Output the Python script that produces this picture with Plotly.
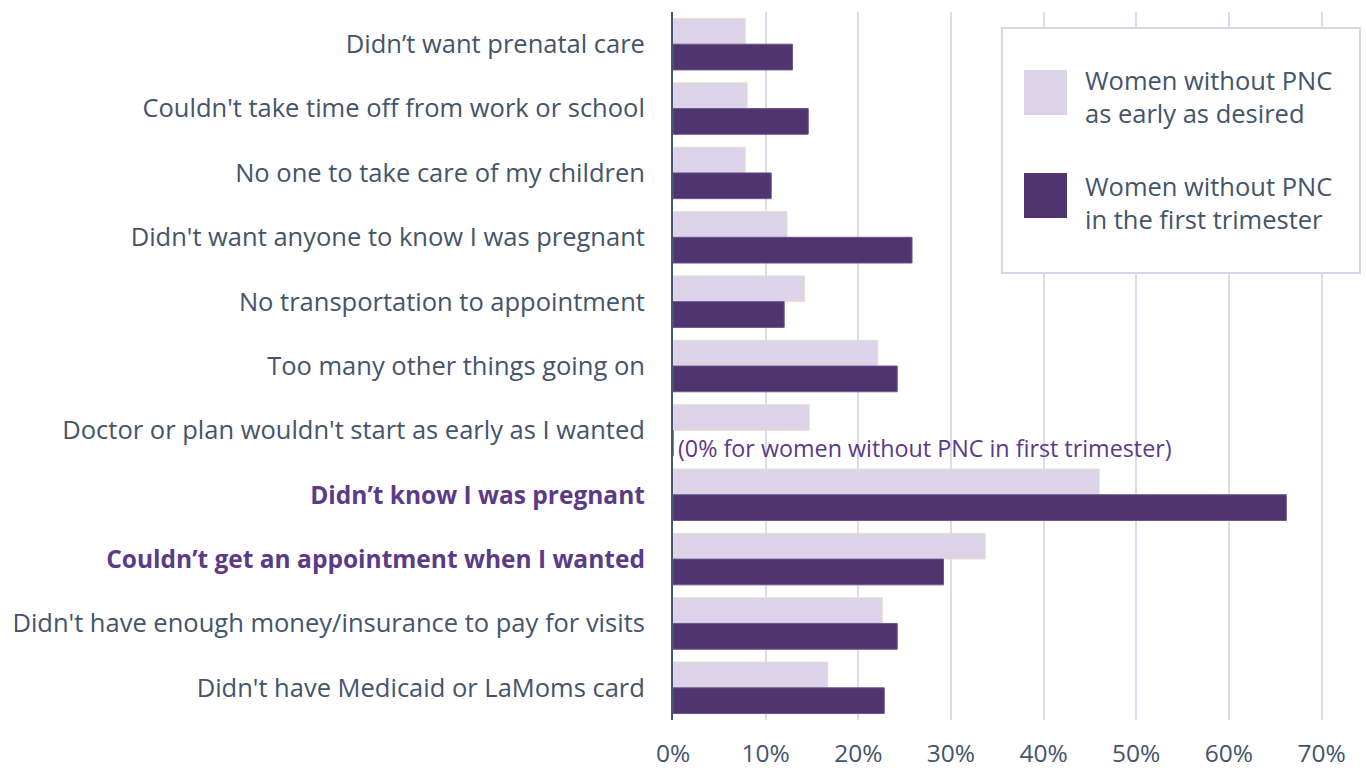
import plotly.graph_objects as go

# Reasons for not getting prenatal care (top to bottom)
reasons = [
    "Didn’t want prenatal care",
    "Couldn't take time off from work or school",
    "No one to take care of my children",
    "Didn't want anyone to know I was pregnant",
    "No transportation to appointment",
    "Too many other things going on",
    "Doctor or plan wouldn't start as early as I wanted",
    "Didn’t know I was pregnant",
    "Couldn’t get an appointment when I wanted",
    "Didn't have enough money/insurance to pay for visits",
    "Didn't have Medicaid or LaMoms card",
]
highlighted = {"Didn’t know I was pregnant", "Couldn’t get an appointment when I wanted"}

# Share of women citing each reason
not_as_early = [0.078, 0.080, 0.078, 0.123, 0.142, 0.221, 0.147, 0.460, 0.337, 0.226, 0.167]
not_first_tri = [0.129, 0.146, 0.106, 0.258, 0.120, 0.242, 0.0, 0.662, 0.292, 0.242, 0.228]

series_names = [
    "Women without PNC<br>as early as desired",
    "Women without PNC<br>in the first trimester",
]
x_ticks = [0, 0.1, 0.2, 0.3, 0.4, 0.5, 0.6, 0.7]
x_tick_labels = ["0%", "10%", "20%", "30%", "40%", "50%", "60%", "70%"]

LIGHT = "#DCD3E9"
DARK = "#4F3470"
SLATE = "#44546A"
PURPLE = "#5B3A87"
FONT = "Open Sans"

W, H = 1366, 772
ML, MR, MT, MB = 673, 0, 12, 52


def px_x(x):
    return (x - ML) / (W - ML - MR)


def px_y(y):
    return (H - MB - y) / (H - MT - MB)


tick_text = [
    f"<span style='color:{PURPLE};font-size:24.5px'><b>{r}</b></span>" if r in highlighted else r
    for r in reasons
]

fig = go.Figure()
fig.add_trace(go.Bar(
    y=reasons, x=not_as_early, orientation="h", name=series_names[0],
    marker=dict(color=LIGHT, line=dict(color="#E6E1CC", width=1)),
    showlegend=False,
))
fig.add_trace(go.Bar(
    y=reasons, x=not_first_tri, orientation="h", name=series_names[1],
    marker=dict(color=DARK, line=dict(color="#6B5690", width=1)),
    showlegend=False,
))

fig.add_annotation(
    x=0, y=reasons[6], xref="x", yref="y", xanchor="left", yanchor="middle",
    xshift=3, yshift=-18, showarrow=False,
    text="(0% for women without PNC in first trimester)",
    font=dict(family=FONT, size=23.3, color=PURPLE),
)

# Legend box
fig.add_shape(type="rect", xref="paper", yref="paper",
              x0=px_x(1002), x1=px_x(1360), y0=px_y(273), y1=px_y(28),
              line=dict(color="#DCD3EA", width=2), fillcolor="white", layer="above")
for (top, bottom, color, label, mid) in [
    (70, 115, LIGHT, series_names[0], 96),
    (173, 218, DARK, series_names[1], 202),
]:
    fig.add_shape(type="rect", xref="paper", yref="paper",
                  x0=px_x(1024), x1=px_x(1067), y0=px_y(bottom), y1=px_y(top),
                  line=dict(width=0), fillcolor=color, layer="above")
    fig.add_annotation(x=px_x(1083), y=px_y(mid), xref="paper", yref="paper",
                       xanchor="left", yanchor="middle", align="left",
                       showarrow=False, text=label,
                       font=dict(family=FONT, size=25.5, color=SLATE))

fig.update_layout(
    width=W, height=H,
    margin=dict(l=ML, r=MR, t=MT, b=MB),
    paper_bgcolor="white", plot_bgcolor="white",
    barmode="group", bargap=0.2, bargroupgap=0,
    font=dict(family=FONT, color=SLATE),
    xaxis=dict(
        range=[0, 0.748], tickvals=x_ticks, ticktext=x_tick_labels,
        showgrid=True, gridcolor="#D9DEE6", gridwidth=2,
        zeroline=False, showline=False, ticks="",
        tickfont=dict(family=FONT, size=24.5, color=SLATE),
        ticklabelstandoff=16, automargin=False,
    ),
    yaxis=dict(
        categoryorder="array", categoryarray=reasons, autorange="reversed",
        tickvals=reasons, ticktext=tick_text,
        showline=True, linecolor=SLATE, linewidth=2, ticks="",
        showgrid=False, ticklabelstandoff=21, automargin=False,
        tickfont=dict(family=FONT, size=25.5, color=SLATE),
    ),
)

fig.write_html("out.html")
